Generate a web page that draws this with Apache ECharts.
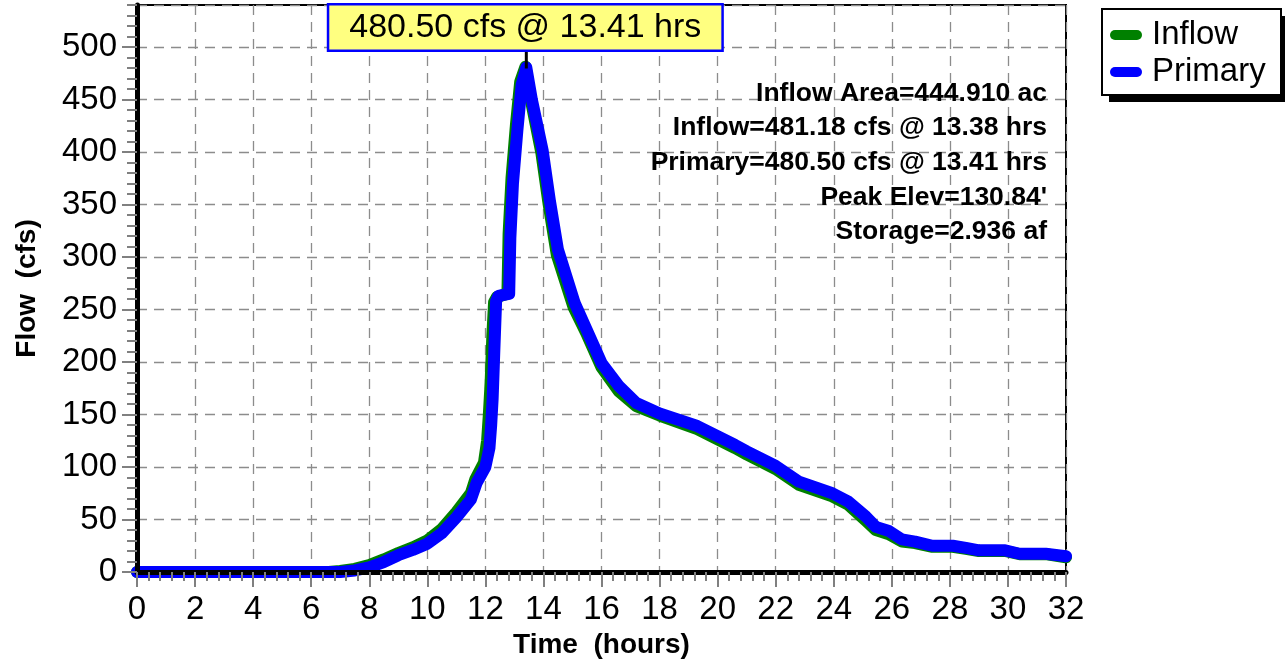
<!DOCTYPE html>
<html><head><meta charset="utf-8">
<script src="https://cdn.jsdelivr.net/npm/echarts@6/dist/echarts.min.js"></script>
<style>html,body{margin:0;padding:0;background:#fff}#c{width:1285px;height:665px}</style>
</head><body><div id="c"></div>
<script>
const inflowHours = [0,6.6,7,7.5,8,8.5,9,9.5,10,10.5,11,11.5,11.65,11.95,12.06,12.12,12.18,12.24,12.3,12.4,12.76,12.8,12.9,13.05,13.2,13.38,13.57,13.93,14.18,14.46,15.04,15.5,16.0,16.6,17.2,18.0,19.3,20.6,21.0,22.0,22.8,23.95,24.5,25.1,25.45,25.9,26.35,26.8,27.4,28.1,28.55,29.0,29.9,30.4,31.3,32];
const inflowCfs   = [0,0,1,3,6.5,12,18,23.5,30,41,57,75,88,104,125,150,180,225,257,262,265,322,375,425,467,481.18,449,399,350,302,252,226,195,172,158,149,136,118,112,98,83,72,64,49,40,36,29,27.5,24,24,22,20,20,17,17,14];
const primaryHours = [0,7,7.5,8,8.5,9,9.5,10,10.5,11,11.5,11.7,12.0,12.14,12.2,12.25,12.31,12.37,12.45,12.82,12.86,12.95,13.1,13.25,13.41,13.6,13.97,14.22,14.5,15.08,15.5,16.0,16.6,17.2,18.0,19.3,20.6,21.0,22.0,22.8,23.95,24.5,25.1,25.45,25.9,26.35,26.8,27.4,28.1,28.55,29.0,29.9,30.4,31.3,32];
const primaryCfs   = [0,0,1.5,4.5,9.5,16,21,27,37,52,69,85,100,118,140,165,212,258,263,265,318,370,420,464,480.5,450,402,354,307,256,230,199,177,161,151,139,121,115,101,86,75,67,53,43,39,31,29,25,25,23,20.6,20.6,17.4,17.4,15];
const seriesNames = ['Inflow','Primary'];
const peak = [13.41, 480.50];
const peakLabel = '480.50 cfs @ 13.41 hrs';
const statLines = ['Inflow Area=444.910 ac','Inflow=481.18 cfs @ 13.38 hrs','Primary=480.50 cfs @ 13.41 hrs',"Peak Elev=130.84'",'Storage=2.936 af'];
const xMin = 0, xMax = 32, xStep = 2, xMinor = 0.4;
const yMin = 0, yMax = 540, yStep = 50, yMinorStep = 10;

const FONT = "'Liberation Sans', Arial, sans-serif";
const zip = (a, b) => a.map((v, i) => [v, b[i]]);
const chart = echarts.init(document.getElementById('c'), null, {renderer: 'canvas'});
const gridDash = {type: [10, 7], color: '#8c8c8c', width: 1.3};
const capsule = 'path://M5,0 L27,0 A5,5 0 0 1 27,10 L5,10 A5,5 0 0 1 5,0 Z';

const option = {
  animation: false,
  backgroundColor: '#fff',
  grid: {left: 137, right: 219, top: 5, bottom: 93, show: true, borderColor: '#000', borderWidth: 2, backgroundColor: 'transparent'},
  legend: {
    data: seriesNames, orient: 'vertical', left: 1110, top: 18,
    itemWidth: 34, itemHeight: 10, itemGap: 3, icon: capsule,
    textStyle: {fontSize: 33, fontFamily: FONT, color: '#000', lineHeight: 34, padding: [0, 0, 0, 4]},
    padding: 0, z: 6
  },
  xAxis: [
    {type: 'value', position: 'bottom', min: xMin, max: xMax, interval: xStep,
     axisLine: {show: false}, axisTick: {show: true, length: 15, lineStyle: {color: '#808080', width: 2}},
     axisLabel: {fontSize: 33, fontFamily: FONT, color: '#000', margin: 21},
     splitLine: {show: true, lineStyle: gridDash},
     name: 'Time  (hours)', nameLocation: 'middle', nameGap: 59,
     nameTextStyle: {fontSize: 28, fontWeight: 'bold', fontFamily: FONT, color: '#000'}},
    {type: 'value', position: 'bottom', min: xMin, max: xMax, interval: xMinor, z: 5,
     axisLine: {show: true, lineStyle: {color: '#000', width: 5}},
     axisTick: {show: true, length: 9, lineStyle: {color: '#808080', width: 2}},
     axisLabel: {show: false}, splitLine: {show: false}}
  ],
  yAxis: [
    {type: 'value', position: 'left', min: yMin, max: yMax, interval: yStep,
     axisLine: {show: false}, axisTick: {show: true, length: 15, lineStyle: {color: '#808080', width: 2}},
     axisLabel: {fontSize: 33, fontFamily: FONT, color: '#000', margin: 20, showMaxLabel: false},
     splitLine: {show: true, lineStyle: gridDash},
     name: 'Flow  (cfs)', nameLocation: 'middle', nameGap: 96, nameRotate: 90,
     nameTextStyle: {fontSize: 28, fontWeight: 'bold', fontFamily: FONT, color: '#000'}},
    {type: 'value', position: 'left', min: yMin, max: yMax, interval: yMinorStep, z: 5,
     axisLine: {show: true, lineStyle: {color: '#000', width: 5}},
     axisTick: {show: true, length: 10, lineStyle: {color: '#808080', width: 2}},
     axisLabel: {show: false}, splitLine: {show: false}}
  ],
  series: [
    {name: seriesNames[0], type: 'line', data: zip(inflowHours, inflowCfs), showSymbol: false, symbol: 'none',
     color: '#008000', lineStyle: {width: 12, color: '#008000', join: 'round', cap: 'round'}, z: 2},
    {name: seriesNames[1], type: 'line', data: zip(primaryHours, primaryCfs), showSymbol: false, symbol: 'none',
     color: '#0000ff', lineStyle: {width: 12, color: '#0000ff', join: 'round', cap: 'round'}, z: 3}
  ]
};
chart.setOption(option);

const pk = chart.convertToPixel({xAxisIndex: 0, yAxisIndex: 0}, peak);
const gridTop = chart.convertToPixel({yAxisIndex: 0}, yMax);
const plotRight = chart.convertToPixel({xAxisIndex: 0}, xMax);
const boxTop = gridTop + 0.5, boxH = 44;
const elements = [
  // legend frame with shadow
  {type: 'rect', z: 1, shape: {x: 1109, y: 16, width: 179, height: 86}, style: {fill: '#000'}},
  {type: 'rect', z: 1, shape: {x: 1102, y: 9, width: 179, height: 86}, style: {fill: '#fff', stroke: '#000', lineWidth: 2}},
  // peak annotation
  {type: 'line', z: 20, shape: {x1: pk[0], y1: boxTop + boxH, x2: pk[0], y2: pk[1] + 1}, style: {stroke: '#000', lineWidth: 3}},
  {type: 'text', z: 21, x: pk[0] - 1, y: boxTop,
   style: {text: peakLabel, align: 'center', verticalAlign: 'top', font: '34px ' + FONT, fill: '#000',
           backgroundColor: '#ffff80', borderColor: '#0000ff', borderWidth: 2.5, padding: [5, 20, 4, 20], lineHeight: 35}}
];
statLines.forEach((t, i) => {
  elements.push({type: 'text', z: 20, x: plotRight - 19, y: 93.5 + i * 34.6,
    style: {text: t, align: 'right', verticalAlign: 'middle', font: 'bold 26.5px ' + FONT, fill: '#000'}});
});
chart.setOption({graphic: {elements}});
</script></body></html>
